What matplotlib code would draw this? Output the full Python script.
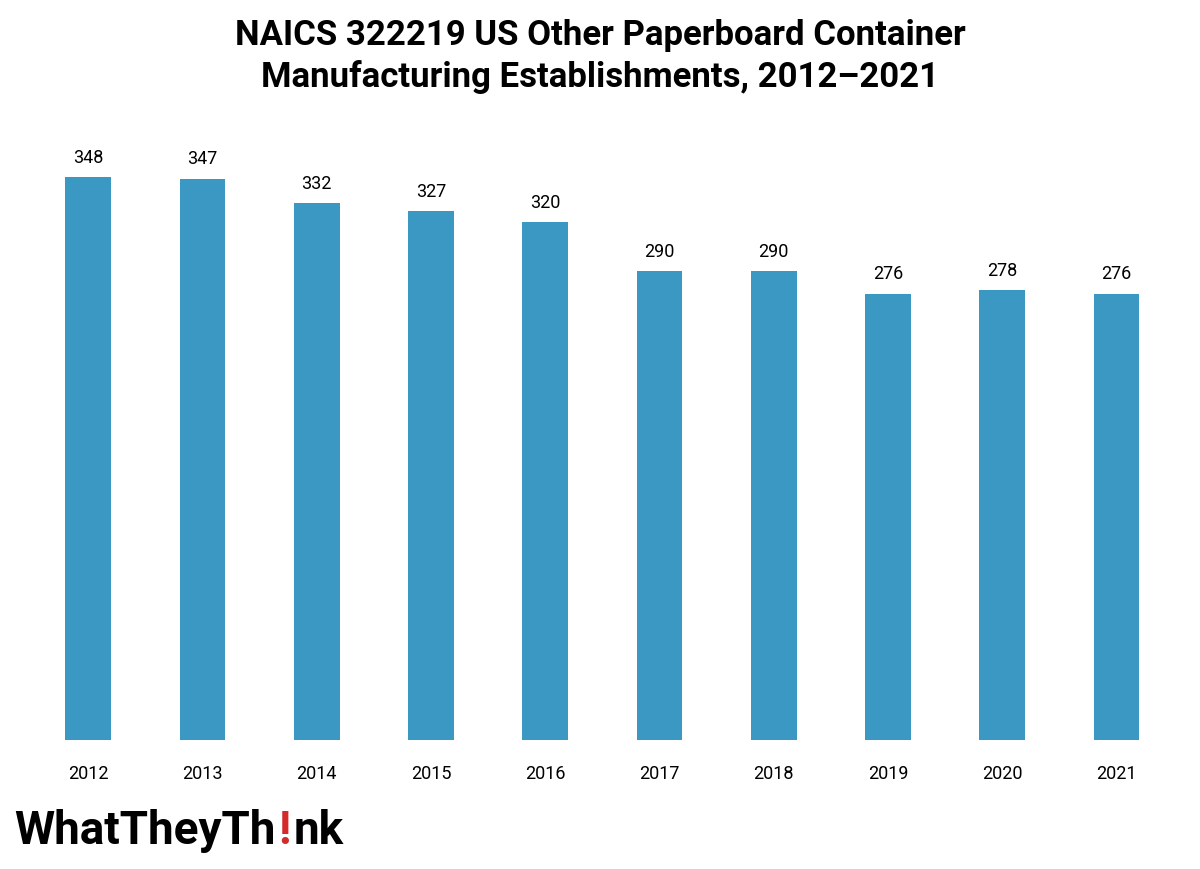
import matplotlib
matplotlib.use("Agg")
import matplotlib.pyplot as plt

years = ["2012","2013","2014","2015","2016","2017","2018","2019","2020","2021"]
values = [348,347,332,327,320,290,290,276,278,276]

fig = plt.figure(figsize=(12,8.7), dpi=100)
ax = fig.add_axes([0.026,0.148,0.952,0.744])
x = range(len(years))
ax.bar(x, values, width=0.4, color="#3a98c3")
for i,v in zip(x, values):
    ax.text(i, v+7, str(v), ha="center", va="bottom", fontsize=13, family="Roboto")
ax.set_xlim(-0.5, len(years)-0.5)
ax.set_ylim(0, 400)
ax.set_yticks([])
ax.set_xticks(list(x))
ax.set_xticklabels(years, fontsize=13, family="Roboto")
ax.tick_params(axis="x", length=0, pad=17)
for s in ["top","right","left","bottom"]:
    ax.spines[s].set_visible(False)

fig.text(0.5, 0.935, "NAICS 322219 US Other Paperboard Container\nManufacturing Establishments, 2012–2021",
         ha="center", va="center", fontsize=25, fontweight="bold", family="Roboto", linespacing=1.3)
fig.text(0.012, 0.03, "WhatTheyTh", fontsize=33, fontweight="bold", family="Roboto", va="baseline")
fig.text(0.232, 0.03, "!", fontsize=33, fontweight="bold", family="Roboto", va="baseline", color="#d42a2a")
fig.text(0.245, 0.03, "nk", fontsize=33, fontweight="bold", family="Roboto", va="baseline")
fig.savefig("out.png")
